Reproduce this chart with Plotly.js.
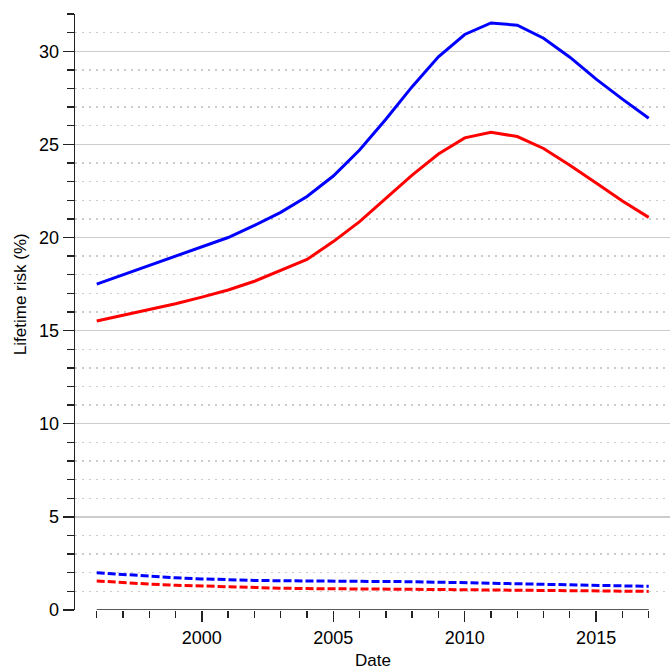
<!DOCTYPE html>
<html>
<head>
<meta charset="utf-8">
<script src="https://cdn.plot.ly/plotly-3.0.1.min.js"></script>
<style>html,body{margin:0;padding:0;background:#fff;}#chart{width:670px;height:671px;}</style>
</head>
<body>
<div id="chart"></div>
<script>
var years = [1996,1997,1998,1999,2000,2001,2002,2003,2004,2005,2006,2007,2008,2009,2010,2011,2012,2013,2014,2015,2016,2017];
var blueSolid = [17.5,18.0,18.5,19.0,19.5,20.0,20.65,21.35,22.2,23.3,24.7,26.35,28.1,29.7,30.9,31.52,31.4,30.7,29.68,28.5,27.43,26.4];
var redSolid = [15.52,15.83,16.12,16.44,16.8,17.18,17.65,18.22,18.82,19.78,20.85,22.1,23.35,24.48,25.35,25.65,25.42,24.78,23.88,22.92,21.96,21.08];
var blueDashed = [2.0,1.9,1.81,1.73,1.67,1.62,1.59,1.57,1.55,1.54,1.54,1.53,1.52,1.5,1.47,1.44,1.41,1.38,1.35,1.32,1.3,1.27];
var redDashed = [1.56,1.46,1.39,1.33,1.28,1.24,1.2,1.17,1.15,1.13,1.12,1.12,1.11,1.1,1.09,1.08,1.07,1.05,1.04,1.03,1.02,1.0];
var xLabels = [2000,2005,2010,2015];
var yLabels = [0,5,10,15,20,25,30];
var xTitle = "Date";
var yTitle = "Lifetime risk (%)";

var FONT = "Liberation Sans, Arial, Helvetica, sans-serif";
var AX = "#222222";
var GRID = "#cccccc";

var traces = [
  {x: years, y: blueDashed, mode: "lines", line: {color: "#0000ff", width: 3, dash: "8px,3px"}},
  {x: years, y: redDashed, mode: "lines", line: {color: "#ff0000", width: 3, dash: "8px,3px"}},
  {x: years, y: blueSolid, mode: "lines", line: {color: "#0000ff", width: 3}},
  {x: years, y: redSolid, mode: "lines", line: {color: "#ff0000", width: 3}}
];

var layout = {
  width: 670, height: 671,
  margin: {l: 75, r: 0, t: 14, b: 61, pad: 0},
  paper_bgcolor: "#ffffff", plot_bgcolor: "#ffffff",
  showlegend: false,
  font: {family: FONT, size: 18, color: "#000000"},
  xaxis: {
    range: [1995.174, 2017.81],
    showline: false, zeroline: false, showgrid: false,
    tickmode: "array", tickvals: xLabels, ticktext: xLabels.map(String),
    ticks: "outside", ticklen: 11, tickwidth: 1.3, tickcolor: AX,
    tickfont: {family: FONT, size: 18, color: "#000"},
    minor: {dtick: 1, tick0: 1996, ticks: "outside", ticklen: 7, tickwidth: 1.3, tickcolor: AX, showgrid: false},
    fixedrange: true
  },
  yaxis: {
    range: [0, 32],
    showline: true, linecolor: AX, linewidth: 1.3,
    zeroline: false,
    tickmode: "array", tickvals: yLabels, ticktext: yLabels.map(String),
    ticks: "outside", ticklen: 11, tickwidth: 1.3, tickcolor: AX,
    tickfont: {family: FONT, size: 18, color: "#000"},
    showgrid: true, gridcolor: GRID, gridwidth: 1.4,
    minor: {dtick: 1, tick0: 0, ticks: "outside", ticklen: 7, tickwidth: 1.3, tickcolor: AX,
            showgrid: true, gridcolor: GRID, gridwidth: 1.3, griddash: "2px,5px"},
    fixedrange: true
  },
  shapes: [
    {type: "line", xref: "x", yref: "y", x0: years[0], x1: years[years.length-1], y0: 0, y1: 0,
     line: {color: AX, width: 1.3}}
  ],
  annotations: [
    {text: yTitle, xref: "paper", yref: "paper", x: -0.0924, y: 0.53, xanchor: "center", yanchor: "middle",
     textangle: -90, showarrow: false, font: {family: FONT, size: 17, color: "#000"}},
    {text: xTitle, xref: "paper", yref: "paper", x: 0.5, y: -0.066, xanchor: "center", yanchor: "top",
     showarrow: false, font: {family: FONT, size: 17, color: "#000"}}
  ]
};

Plotly.newPlot("chart", traces, layout, {displayModeBar: false, staticPlot: true});
</script>
</body>
</html>
